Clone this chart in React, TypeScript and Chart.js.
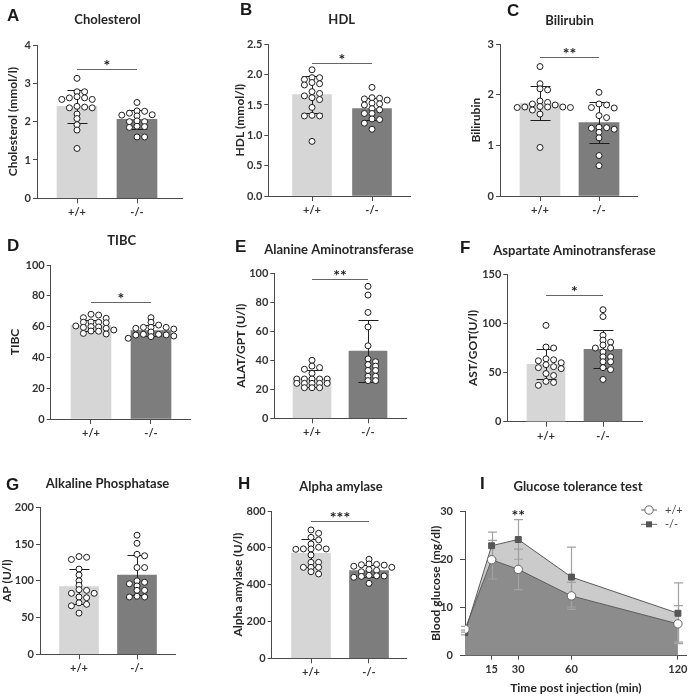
import { useEffect, useRef } from 'react';
import { Chart, registerables } from 'chart.js';

Chart.register(...registerables);

// ---------------- DATA ----------------
const GROUPS = ['+/+', '-/-'];

// A – Cholesterol (mmol/l)
const cholesterolWT = [3.13, 2.78, 2.78, 2.65, 2.62, 2.62, 2.58, 2.58, 2.4, 2.38, 2.36, 2.36, 2.2, 2.08, 1.92, 1.78, 1.3];
const cholesterolKO = [2.5, 2.28, 2.27, 2.22, 2.18, 2.17, 2.15, 2.02, 2.0, 2.0, 1.88, 1.87, 1.85, 1.6, 1.6];
const cholesterolMean = [2.4, 2.06];
const cholesterolSD = [0.43, 0.25];
const cholesterolSig = 3.37;
const cholesterolStars = '*';

// B – HDL (mmol/l)
const hdlWT = [2.08, 1.95, 1.95, 1.92, 1.87, 1.85, 1.83, 1.72, 1.69, 1.65, 1.62, 1.59, 1.46, 1.33, 1.32, 1.32, 0.9];
const hdlKO = [1.79, 1.62, 1.61, 1.6, 1.58, 1.53, 1.52, 1.5, 1.44, 1.42, 1.36, 1.36, 1.27, 1.26, 1.2, 1.1];
const hdlMean = [1.67, 1.44];
const hdlSD = [0.3, 0.18];
const hdlSig = 2.2;
const hdlStars = '*';

// C – Bilirubin
const bilirubinWT = [2.56, 2.22, 2.12, 2.1, 1.88, 1.85, 1.82, 1.8, 1.77, 1.76, 1.76, 1.76, 1.75, 1.75, 1.7, 1.62, 0.96];
const bilirubinKO = [2.05, 1.82, 1.8, 1.75, 1.74, 1.59, 1.55, 1.36, 1.35, 1.34, 1.32, 1.26, 1.15, 0.8, 0.6];
const bilirubinMean = [1.84, 1.45];
const bilirubinSD = [0.33, 0.4];
const bilirubinSig = 2.74;
const bilirubinStars = '**';

// D – TIBC
const tibcWT = [68, 67.5, 65.8, 65.4, 63, 62.8, 62.8, 62.5, 60.4, 60, 59.8, 59.5, 58.9, 57.8, 57.1, 57, 55.6, 55.2];
const tibcKO = [65.8, 62.8, 61, 59.5, 59.5, 59.5, 58.9, 58.4, 56.5, 55, 55, 54.6, 54.5, 53.9, 53.5, 52.4];
const tibcMean = [60.8, 57.4];
const tibcSD = [3.8, 3.7];
const tibcSig = 76.2;
const tibcStars = '*';

// E – Alanine aminotransferase (U/l)
const alatWT = [40, 36, 35, 33.8, 31, 27.1, 27.1, 27.1, 27.1, 27.1, 24.1, 24.1, 24.1, 24.1, 24.1, 21.1, 21.1, 21.1];
const alatKO = [91, 85, 73, 63, 50, 41, 39, 37, 36, 33, 33, 29, 29, 26, 26];
const alatMean = [27.6, 46.3];
const alatSD = [5.7, 21.5];
const alatSig = 95.9;
const alatStars = '**';

// F – Aspartate aminotransferase (U/l)
const asatWT = [98, 76, 75, 64, 63, 62, 60, 58, 56, 55, 54, 49, 47, 41, 40, 37];
const asatKO = [114, 107, 88, 83, 81, 78, 75, 75, 71, 66, 66, 61, 61, 55, 53, 43];
const asatMean = [58.4, 73.7];
const asatSD = [15.3, 19.5];
const asatSig = 129;
const asatStars = '*';

// G – Alkaline phosphatase (U/l)
const apWT = [133, 132, 129, 116, 108, 100, 94, 88, 87, 83, 83, 78, 77, 70, 68, 66, 56];
const apKO = [162, 151, 136, 134, 118, 118, 100, 98, 96, 93, 87, 87, 79, 78, 78];
const apMean = [92.2, 107.7];
const apSD = [24, 27];

// H – Alpha amylase (U/l)
const amylaseWT = [697, 679, 657, 643, 621, 603, 594, 594, 594, 592, 561, 521, 521, 494, 494, 494, 470, 458];
const amylaseKO = [538, 512, 510, 508, 506, 500, 494, 482, 478, 470, 450, 448, 447, 445, 440, 407];
const amylaseMean = [570, 476];
const amylaseSD = [76, 32];
const amylaseSig = 746;
const amylaseStars = '***';

// I – Glucose tolerance test (mg/dl)
const glucoseTime = [0, 15, 30, 60, 120];
const glucoseTicks = [15, 30, 60, 120];
const glucoseWT = [5.5, 19.9, 17.9, 12.4, 6.6];
const glucoseWTsd = [0.6, 4.0, 4.2, 2.8, 3.8];
const glucoseKO = [4.8, 22.8, 24.1, 16.3, 8.8];
const glucoseKOsd = [0.5, 2.8, 4.1, 6.2, 6.3];
const glucoseSigTime = 30;
const glucoseSigLevel = 29.7;
const glucoseStars = '**';

// ---------------- STYLE / LAYOUT ----------------
const W = 692;
const H = 696;
const SANS = 'Lato, "Open Sans", "DejaVu Sans", sans-serif';
const LETTER_FONT = '"Liberation Sans", Arial, sans-serif';
const TEXT = '#262626';
const TICK = '#333333';
const AXIS = '#4a4a4a';
const LIGHT = '#d6d6d6';
const DARK = '#7d7d7d';

const BAR_PANELS: any[] = [
  { letter: 'A', title: 'Cholesterol', yTitle: 'Cholesterol (mmol/l)', yMax: 4, yStep: 1, decimals: 0,
    wt: cholesterolWT, ko: cholesterolKO, mean: cholesterolMean, sd: cholesterolSD, sig: cholesterolSig, stars: cholesterolStars,
    box: { l: 37, r: 182, t: 45, b: 198.3, g0: 77, g1: 137 }, barW: 40, titlePos: [107.5, 24], letterPos: [7, 20.5], yTitleX: 13 },
  { letter: 'B', title: 'HDL', yTitle: 'HDL (mmol/l)', yMax: 2.5, yStep: 0.5, decimals: 1,
    wt: hdlWT, ko: hdlKO, mean: hdlMean, sd: hdlSD, sig: hdlSig, stars: hdlStars,
    box: { l: 268.3, r: 410, t: 44.3, b: 196, g0: 312, g1: 372 }, barW: 39, titlePos: [341.7, 24], letterPos: [240, 15], yTitleX: 240 },
  { letter: 'C', title: 'Bilirubin', yTitle: 'Bilirubin', yMax: 3, yStep: 1, decimals: 0,
    wt: bilirubinWT, ko: bilirubinKO, mean: bilirubinMean, sd: bilirubinSD, sig: bilirubinSig, stars: bilirubinStars,
    box: { l: 500, r: 637, t: 44.3, b: 196, g0: 540, g1: 599 }, barW: 40, titlePos: [569.5, 24.5], letterPos: [507, 16], yTitleX: 476.5 },
  { letter: 'D', title: 'TIBC', yTitle: 'TIBC', yMax: 100, yStep: 20, decimals: 0,
    wt: tibcWT, ko: tibcKO, mean: tibcMean, sd: tibcSD, sig: tibcSig, stars: tibcStars,
    box: { l: 50.7, r: 191, t: 265, b: 419, g0: 91, g1: 151 }, barW: 40, titlePos: [121.7, 245], letterPos: [7, 250.7], yTitleX: 15 },
  { letter: 'E', title: 'Alanine Aminotransferase', yTitle: 'ALAT/GPT (U/l)', yMax: 100, yStep: 20, decimals: 0,
    wt: alatWT, ko: alatKO, mean: alatMean, sd: alatSD, sig: alatSig, stars: alatStars,
    box: { l: 274.3, r: 406, t: 273.3, b: 418.3, g0: 312, g1: 368 }, barW: 38, titlePos: [339, 254], letterPos: [235, 251.7], yTitleX: 241 },
  { letter: 'F', title: 'Aspartate Aminotransferase', yTitle: 'AST/GOT(U/l)', yMax: 150, yStep: 50, decimals: 0,
    wt: asatWT, ko: asatKO, mean: asatMean, sd: asatSD, sig: asatSig, stars: asatStars,
    box: { l: 507.3, r: 642, t: 274.3, b: 421.7, g0: 546, g1: 603 }, barW: 38, titlePos: [574.5, 255], letterPos: [460, 253], yTitleX: 473 },
  { letter: 'G', title: 'Alkaline Phosphatase', yTitle: 'AP (U/l)', yMax: 200, yStep: 50, decimals: 0,
    wt: apWT, ko: apKO, mean: apMean, sd: apSD, sig: null, stars: '',
    box: { l: 40, r: 175, t: 507.3, b: 654.3, g0: 79, g1: 137 }, barW: 39, titlePos: [107.5, 488], letterPos: [6, 490], yTitleX: 7 },
  { letter: 'H', title: 'Alpha amylase', yTitle: 'Alpha amylase (U/l)', yMax: 800, yStep: 200, decimals: 0,
    wt: amylaseWT, ko: amylaseKO, mean: amylaseMean, sd: amylaseSD, sig: amylaseSig, stars: amylaseStars,
    box: { l: 271.7, r: 407, t: 511, b: 658.3, g0: 311, g1: 369 }, barW: 39, titlePos: [341, 491], letterPos: [238, 489], yTitleX: 238 },
];

const GLUCOSE_LAYOUT = { l: 465, r: 690, t: 511, b: 655.7, xMax: 125, titlePos: [578, 491], letterPos: [480, 489], yTitleX: 436, xTitleY: 688 };

// ---------------- HELPERS ----------------
// Beeswarm-style arrangement (column offsets in pixels); dots may overlap slightly like the original.
function swarm(values: number[], pxPerY: number, step = 7.6, minD = 4.3) {
  const order = values.map((_, i) => i).sort((a, b) => values[b] - values[a]);
  const placed: { x: number; y: number }[] = [];
  const out = new Array(values.length).fill(0);
  for (const i of order) {
    const y = values[i] * pxPerY;
    for (let k = 0; k < 60; k++) {
      const c = k === 0 ? 0 : (k % 2 ? 1 : -1) * Math.ceil(k / 2) * step;
      if (placed.every((q) => Math.hypot(q.x - c, q.y - y) >= minD)) {
        out[i] = c;
        placed.push({ x: c, y });
        break;
      }
    }
  }
  return out;
}

function drawText(ctx: any, text: string, x: number, y: number, font: string, align: string, color = TEXT) {
  ctx.save();
  ctx.font = font;
  ctx.fillStyle = color;
  ctx.textAlign = align;
  ctx.textBaseline = 'alphabetic';
  ctx.fillText(text, x, y);
  ctx.restore();
}

const tickFont = { family: SANS, size: 11, weight: 'bold' as const };
const axisTitleFont = { family: SANS, size: 12, weight: 'bold' as const, lineHeight: 1 };

function barExtras(p: any) {
  return {
    id: 'barExtras' + p.letter,
    afterDatasetDraw(chart: any, args: any) {
      if (args.index !== 0) return;
      const { ctx } = chart;
      const x = chart.scales.x;
      const y = chart.scales.y;
      ctx.save();
      ctx.strokeStyle = '#1e1e1e';
      ctx.lineWidth = 1;
      p.mean.forEach((m: number, g: number) => {
        const cx = Math.round(x.getPixelForValue(g)) + 0.5;
        const yt = Math.round(y.getPixelForValue(m + p.sd[g])) + 0.5;
        const yb = Math.round(y.getPixelForValue(m - p.sd[g])) + 0.5;
        ctx.beginPath();
        ctx.moveTo(cx, yt);
        ctx.lineTo(cx, yb);
        ctx.moveTo(cx - 10, yt);
        ctx.lineTo(cx + 10, yt);
        ctx.moveTo(cx - 10, yb);
        ctx.lineTo(cx + 10, yb);
        ctx.stroke();
      });
      ctx.restore();
    },
    afterDatasetsDraw(chart: any) {
      if (p.sig == null) return;
      const { ctx } = chart;
      const x = chart.scales.x;
      const y = chart.scales.y;
      const x0 = x.getPixelForValue(0);
      const x1 = x.getPixelForValue(1);
      const ly = Math.round(y.getPixelForValue(p.sig)) + 0.5;
      ctx.save();
      ctx.strokeStyle = '#666';
      ctx.lineWidth = 1;
      ctx.beginPath();
      ctx.moveTo(x0, ly);
      ctx.lineTo(x1, ly);
      ctx.stroke();
      ctx.restore();
      drawText(ctx, p.stars, (x0 + x1) / 2, ly + 1, `bold 16px ${SANS}`, 'center', '#1e1e1e');
    },
    afterDraw(chart: any) {
      const { ctx } = chart;
      drawText(ctx, p.title, p.titlePos[0], p.titlePos[1], `bold 13px ${SANS}`, 'center');
      drawText(ctx, p.letter, p.letterPos[0], p.letterPos[1], `bold 17px ${LETTER_FONT}`, 'left', '#1a1a1a');
    },
  };
}

function makeBarConfig(p: any): any {
  const { l, r, t, b, g0, g1 } = p.box;
  const unit = g1 - g0;
  const xMin = (l - g0) / unit;
  const xMax = (r - g0) / unit;
  const pxPerY = (b - t) / p.yMax;
  const yW = l - (p.yTitleX - 6);
  const xH = 25;
  const dots = [p.wt, p.ko].flatMap((vals: number[], g: number) => {
    const offs = swarm(vals, pxPerY);
    return vals.map((v, i) => ({ x: g + offs[i] / unit, y: v }));
  });
  return {
    type: 'bar',
    data: {
      datasets: [
        {
          type: 'bar',
          label: 'mean',
          data: p.mean.map((m: number, g: number) => ({ x: g, y: m })),
          backgroundColor: [LIGHT, DARK],
          borderWidth: 0,
          barThickness: p.barW,
          order: 2,
        },
        {
          type: 'scatter',
          label: 'individual',
          data: dots,
          pointRadius: 3,
          pointBorderWidth: 1,
          pointBackgroundColor: '#ffffff',
          pointBorderColor: '#1e1e1e',
          order: 1,
        },
      ],
    },
    options: {
      responsive: false,
      maintainAspectRatio: false,
      animation: false,
      devicePixelRatio: 1,
      events: [],
      layout: { padding: { left: l - yW, right: W - r, top: t, bottom: H - b - xH } },
      scales: {
        x: {
          type: 'linear',
          min: xMin,
          max: xMax,
          offset: false,
          afterFit: (s: any) => { s.height = xH; },
          afterBuildTicks: (s: any) => { s.ticks = GROUPS.map((_, i) => ({ value: i })); },
          ticks: {
            callback: (_v: any, i: number) => GROUPS[i],
            font: tickFont,
            color: TICK,
            padding: 3,
            maxRotation: 0,
            autoSkip: false,
          },
          grid: { drawOnChartArea: false, drawTicks: true, tickLength: 5, color: AXIS, lineWidth: 1, offset: false },
          border: { display: true, color: AXIS, width: 1 },
        },
        y: {
          type: 'linear',
          min: 0,
          max: p.yMax,
          afterFit: (s: any) => { s.width = yW; },
          ticks: {
            stepSize: p.yStep,
            callback: (v: any) => Number(v).toFixed(p.decimals),
            font: tickFont,
            color: TICK,
            padding: 2,
          },
          grid: { drawOnChartArea: false, drawTicks: true, tickLength: 4, color: AXIS, lineWidth: 1 },
          border: { display: true, color: AXIS, width: 1 },
          title: { display: true, text: p.yTitle, font: axisTitleFont, color: TEXT, padding: 0 },
        },
      },
      plugins: { legend: { display: false }, tooltip: { enabled: false }, title: { display: false } },
    },
    plugins: [barExtras(p)],
  };
}

function glucoseExtras(L: any) {
  return {
    id: 'glucoseExtras',
    beforeDatasetsDraw(chart: any) {
      const { ctx } = chart;
      const x = chart.scales.x;
      const y = chart.scales.y;
      const series = [
        { m: glucoseWT, sd: glucoseWTsd },
        { m: glucoseKO, sd: glucoseKOsd },
      ];
      ctx.save();
      ctx.strokeStyle = '#a2a2a2';
      ctx.lineWidth = 1.2;
      series.forEach((s) => {
        glucoseTime.forEach((tm, i) => {
          const cx = Math.round(x.getPixelForValue(tm)) + 0.5;
          const yt = y.getPixelForValue(s.m[i] + s.sd[i]);
          const yb = y.getPixelForValue(Math.max(0, s.m[i] - s.sd[i]));
          ctx.beginPath();
          ctx.moveTo(cx, yt);
          ctx.lineTo(cx, yb);
          ctx.moveTo(cx - 4.5, yt);
          ctx.lineTo(cx + 4.5, yt);
          ctx.moveTo(cx - 4.5, yb);
          ctx.lineTo(cx + 4.5, yb);
          ctx.stroke();
        });
      });
      ctx.restore();
    },
    afterDraw(chart: any) {
      const { ctx } = chart;
      const x = chart.scales.x;
      const y = chart.scales.y;
      // significance
      drawText(ctx, glucoseStars, x.getPixelForValue(glucoseSigTime), y.getPixelForValue(glucoseSigLevel) + 9, `bold 16px ${SANS}`, 'center', '#1e1e1e');
      // legend
      const ds = chart.data.datasets;
      const rows = [510, 524.3];
      rows.forEach((ry, i) => {
        ctx.save();
        ctx.strokeStyle = '#666';
        ctx.lineWidth = 1;
        ctx.beginPath();
        ctx.moveTo(641, ry);
        ctx.lineTo(657, ry);
        ctx.stroke();
        if (i === 0) {
          ctx.beginPath();
          ctx.arc(649, ry, 4.2, 0, Math.PI * 2);
          ctx.fillStyle = '#fff';
          ctx.fill();
          ctx.stroke();
        } else {
          ctx.fillStyle = '#555';
          ctx.fillRect(646, ry - 3, 6, 6);
        }
        ctx.restore();
        ctx.save();
        ctx.font = `11px ${SANS}`;
        ctx.fillStyle = '#444';
        ctx.textAlign = 'left';
        ctx.textBaseline = 'middle';
        ctx.fillText(ds[i].label, 665, ry);
        ctx.restore();
      });
      drawText(ctx, 'Glucose tolerance test', L.titlePos[0], L.titlePos[1], `bold 13px ${SANS}`, 'center');
      drawText(ctx, 'I', L.letterPos[0], L.letterPos[1], `bold 17px ${LETTER_FONT}`, 'left', '#1a1a1a');
    },
  };
}

function makeGlucoseConfig(): any {
  const L = GLUCOSE_LAYOUT;
  const yW = L.l - (L.yTitleX - 6);
  const xH = L.xTitleY + 6 - L.b;
  return {
    type: 'line',
    data: {
      datasets: [
        {
          label: '+/+',
          data: glucoseTime.map((tm, i) => ({ x: tm, y: glucoseWT[i] })),
          fill: 'origin',
          backgroundColor: '#8c8c8c',
          borderColor: '#5c5c5c',
          borderWidth: 1,
          tension: 0,
          pointStyle: 'circle',
          pointRadius: 4.2,
          pointBackgroundColor: '#ffffff',
          pointBorderColor: '#666666',
          pointBorderWidth: 1,
        },
        {
          label: '-/-',
          data: glucoseTime.map((tm, i) => ({ x: tm, y: glucoseKO[i] })),
          fill: '-1',
          backgroundColor: '#cbcbcb',
          borderColor: '#5c5c5c',
          borderWidth: 1,
          tension: 0,
          pointStyle: 'rect',
          pointRadius: 4.2,
          pointBackgroundColor: '#555555',
          pointBorderColor: '#555555',
          pointBorderWidth: 1,
        },
      ],
    },
    options: {
      responsive: false,
      maintainAspectRatio: false,
      animation: false,
      devicePixelRatio: 1,
      events: [],
      layout: { padding: { left: L.l - yW, right: W - L.r, top: L.t, bottom: H - L.b - xH } },
      scales: {
        x: {
          type: 'linear',
          min: 0,
          max: L.xMax,
          afterFit: (s: any) => { s.height = xH; },
          afterBuildTicks: (s: any) => { s.ticks = glucoseTicks.map((v) => ({ value: v })); },
          ticks: { callback: (v: any) => String(v), font: tickFont, color: TICK, padding: 3, maxRotation: 0, autoSkip: false },
          grid: { drawOnChartArea: false, drawTicks: true, tickLength: 4, color: AXIS, lineWidth: 1 },
          border: { display: true, color: AXIS, width: 1 },
          title: { display: true, text: 'Time post injection (min)', font: axisTitleFont, color: TEXT, padding: 0 },
        },
        y: {
          type: 'linear',
          min: 0,
          max: 30,
          afterFit: (s: any) => { s.width = yW; },
          ticks: { stepSize: 10, font: tickFont, color: TICK, padding: 7 },
          grid: { drawOnChartArea: false, drawTicks: true, tickLength: 5, color: AXIS, lineWidth: 1 },
          border: { display: true, color: AXIS, width: 1 },
          title: { display: true, text: 'Blood glucose (mg/dl)', font: axisTitleFont, color: TEXT, padding: 0 },
        },
      },
      plugins: {
        legend: { display: false },
        tooltip: { enabled: false },
        title: { display: false },
        filler: { drawTime: 'beforeDatasetsDraw' },
      },
    },
    plugins: [glucoseExtras(L)],
  };
}

function ChartCanvas({ make }: { make: () => any }) {
  const ref = useRef<HTMLCanvasElement | null>(null);
  useEffect(() => {
    if (!ref.current) return;
    const chart = new Chart(ref.current, make());
    return () => chart.destroy();
  }, []);
  return (
    <canvas
      ref={ref}
      width={W}
      height={H}
      style={{ position: 'absolute', left: 0, top: 0, width: W, height: H }}
    />
  );
}

export default function App() {
  return (
    <div style={{ position: 'absolute', left: 0, top: 0, width: W, height: H, background: '#ffffff', overflow: 'hidden' }}>
      {BAR_PANELS.map((p) => (
        <ChartCanvas key={p.letter} make={() => makeBarConfig(p)} />
      ))}
      <ChartCanvas make={makeGlucoseConfig} />
    </div>
  );
}
